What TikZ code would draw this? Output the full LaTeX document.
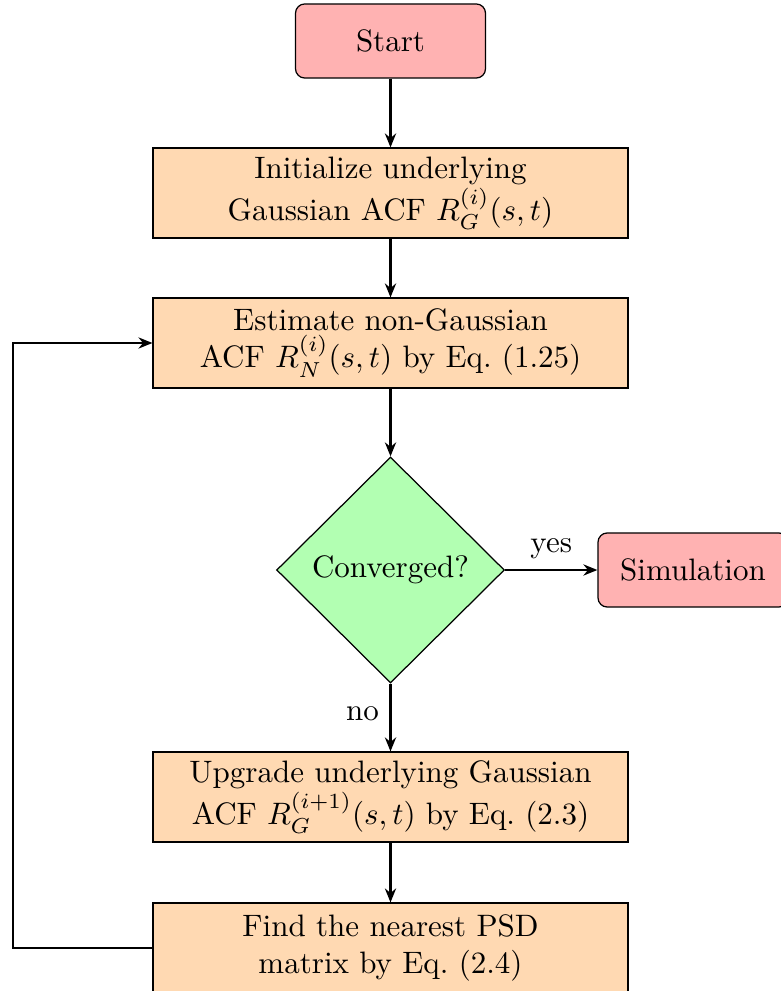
\documentclass[tikz,border=0pt]{standalone}
\usetikzlibrary{shapes.geometric,arrows.meta}
\begin{document}
\begin{tikzpicture}[x=0.3226pt,y=-0.3226pt,
  startstop/.style={rectangle, rounded corners=3pt, draw, fill=red!30, minimum width=61.3pt, minimum height=23.9pt, inner sep=2pt},
  process/.style={rectangle, draw, fill=orange!30, minimum width=153.2pt, minimum height=29pt, align=center, inner sep=2pt},
  decision/.style={diamond, draw, fill=green!30, minimum width=73.5pt, minimum height=72.9pt, inner sep=0pt},
  arrow/.style={thick, -{Stealth[length=4.5pt,width=3.6pt]}},
  line/.style={thick}]
\useasboundingbox (0,0) rectangle (780,991);
\node[startstop] (start) at (390.5,41) {Start};
\node[process] (init) at (390.5,193) {Initialize underlying\\ Gaussian ACF $R_G^{(i)}(s,t)$};
\node[process] (est) at (390.5,343) {Estimate non-Gaussian\\ ACF $R_N^{(i)}(s,t)$ by Eq.~(1.25)};
\node[decision] (conv) at (390.5,570) {Converged?};
\node[startstop] (sim) at (693,570) {Simulation};
\node[process] (upg) at (390.5,797) {Upgrade underlying Gaussian\\ ACF $R_G^{(i+1)}(s,t)$ by Eq.~(2.3)};
\node[process] (find) at (390.5,948) {Find the nearest PSD\\ matrix by Eq.~(2.4)};
\coordinate (fb) at (13,948);
\draw[arrow] (start) -- (init);
\draw[arrow] (init) -- (est);
\draw[arrow] (est) -- (conv);
\draw[arrow] (conv) -- node[above] {yes} (sim);
\draw[arrow] (conv) -- node[left, pos=0.45] {no} (upg);
\draw[arrow] (upg) -- (find);
\draw[arrow] (find.west) -- (fb) |- (est.west);
\end{tikzpicture}
\end{document}
